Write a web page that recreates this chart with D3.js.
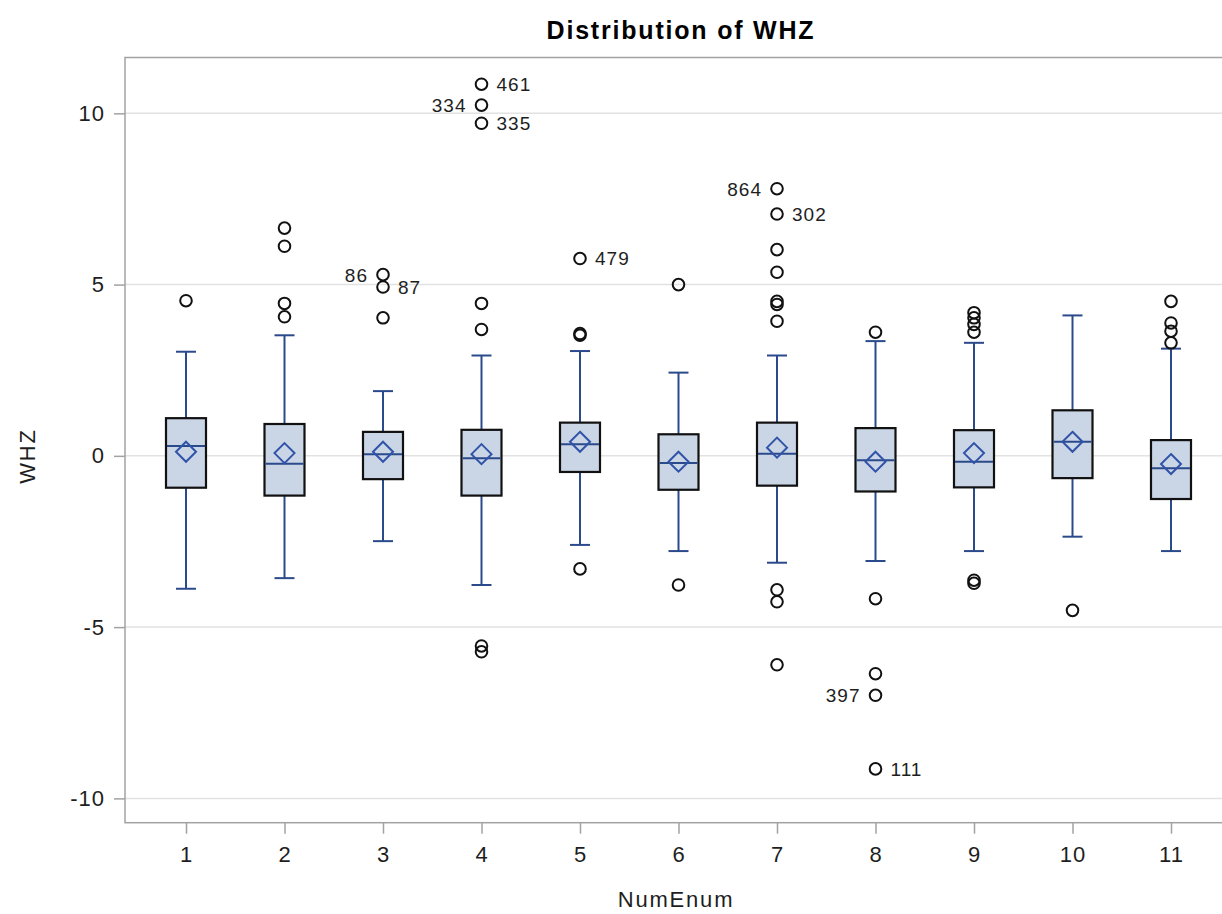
<!DOCTYPE html>
<html>
<head>
<meta charset="utf-8">
<script src="https://cdn.jsdelivr.net/npm/d3@7"></script>
<style>
body { margin: 0; background: #fff; }
text { font-family: "Liberation Sans", Arial, sans-serif; }
</style>
</head>
<body>
<script>
'use strict';

var categories = [1, 2, 3, 4, 5, 6, 7, 8, 9, 10, 11];
var whiskerHigh = [3.04, 3.52, 1.89, 2.93, 3.06, 2.43, 2.93, 3.35, 3.30, 4.10, 3.13];
var q3 = [1.10, 0.93, 0.70, 0.76, 0.97, 0.63, 0.97, 0.81, 0.75, 1.33, 0.46];
var medians = [0.29, -0.23, 0.05, -0.07, 0.34, -0.21, 0.06, -0.13, -0.17, 0.41, -0.36];
var means = [0.12, 0.08, 0.12, 0.05, 0.41, -0.17, 0.24, -0.17, 0.08, 0.41, -0.24];
var q1 = [-0.93, -1.16, -0.68, -1.16, -0.47, -0.99, -0.87, -1.04, -0.92, -0.65, -1.26];
var whiskerLow = [-3.88, -3.57, -2.49, -3.77, -2.60, -2.78, -3.12, -3.07, -2.78, -2.36, -2.78];

// [category, WHZ, obs id]
var outliers = [
    [1, 4.53, ""],
    [2, 6.65, ""], [2, 6.12, ""], [2, 4.45, ""], [2, 4.06, ""],
    [3, 5.29, "86"], [3, 4.93, "87"], [3, 4.03, ""],
    [4, 10.85, "461"], [4, 10.24, "334"], [4, 9.71, "335"], [4, 4.45, ""], [4, 3.69, ""],
    [4, -5.55, ""], [4, -5.72, ""],
    [5, 5.76, "479"], [5, 3.57, ""], [5, 3.52, ""], [5, -3.30, ""],
    [6, 5.00, ""], [6, -3.77, ""],
    [7, 7.80, "864"], [7, 7.06, "302"], [7, 6.02, ""], [7, 5.36, ""], [7, 4.51, ""],
    [7, 4.42, ""], [7, 3.93, ""], [7, -3.91, ""], [7, -4.26, ""], [7, -6.10, ""],
    [8, 3.61, ""], [8, -4.17, ""], [8, -6.36, ""], [8, -6.99, "397"], [8, -9.14, "111"],
    [9, 4.18, ""], [9, 4.03, ""], [9, 3.84, ""], [9, 3.61, ""], [9, -3.63, ""], [9, -3.72, ""],
    [10, -4.51, ""],
    [11, 4.51, ""], [11, 3.88, ""], [11, 3.64, ""], [11, 3.30, ""]
];

var yTicks = [-10, -5, 0, 5, 10];

var chart = {};

chart.width = 1222;
chart.height = 914;
chart.left = 125;
chart.right = 1232;
chart.top = 57.5;
chart.bottom = 822.7;
chart.labelsOnLeft = ["86", "334", "864", "397"];

chart.boxColor = "#2b4a8b";
chart.meanColor = "#3053a8";
chart.fillColor = "#cad5e6";

chart.appendSVG = function(div, width, height){
    var svg = d3.select(div).append("svg")
                .attr("width", width)
                .attr("height", height);
    return svg;
}

chart.createScaleX = function(){
    return d3.scalePoint()
             .domain(categories)
             .range([186, 1171]);
}

chart.createScaleY = function(){
    return d3.scaleLinear()
             .domain([-10.71, 11.63])
             .range([chart.bottom, chart.top]);
}

chart.createFrame = function(svg, yScale){
    svg.selectAll(".grid")
        .data(yTicks)
        .enter()
            .append("line")
            .classed("grid", true)
            .attr("x1", chart.left)
            .attr("x2", chart.right)
            .attr("y1", function(d){ return yScale(d); })
            .attr("y2", function(d){ return yScale(d); })
            .style("stroke", "#e2e2e2")
            .style("stroke-width", 1.5);

    svg.append("rect")
        .attr("x", chart.left)
        .attr("y", chart.top)
        .attr("width", chart.right - chart.left)
        .attr("height", chart.bottom - chart.top)
        .style("fill", "none")
        .style("stroke", "#a2a2a2")
        .style("stroke-width", 1.5);
}

chart.createAxes = function(svg, xScale, yScale){
    var yAxis = svg.append("g")
        .attr("transform", "translate(" + chart.left + ",0)")
        .call(d3.axisLeft(yScale)
                .tickValues(yTicks)
                .tickFormat(function(d){ return String(d); })
                .tickSize(11)
                .tickPadding(9));

    var xAxis = svg.append("g")
        .attr("transform", "translate(0," + chart.bottom + ")")
        .call(d3.axisBottom(xScale).tickSize(11).tickPadding(13));

    [xAxis, yAxis].forEach(function(axis){
        axis.select(".domain").remove();
        axis.selectAll(".tick line").style("stroke", "#a2a2a2").style("stroke-width", 1.5);
        axis.selectAll(".tick text")
            .style("font-size", "22px")
            .style("letter-spacing", "1px")
            .style("fill", "#1e1e1e");
    });

    svg.append("text")
        .attr("x", 676)
        .attr("y", 907)
        .attr("text-anchor", "middle")
        .style("font-size", "22px")
        .style("letter-spacing", "1.8px")
        .style("fill", "#1e1e1e")
        .text("NumEnum");

    svg.append("text")
        .attr("transform", "translate(35,456) rotate(-90)")
        .attr("text-anchor", "middle")
        .style("font-size", "22px")
        .style("letter-spacing", "1.8px")
        .style("fill", "#1e1e1e")
        .text("WHZ");

    svg.append("text")
        .attr("x", 681)
        .attr("y", 39)
        .attr("text-anchor", "middle")
        .style("font-size", "25px")
        .style("font-weight", "bold")
        .style("letter-spacing", "1.8px")
        .style("fill", "#000")
        .text("Distribution of WHZ");
}

chart.createBoxes = function(svg, xScale, yScale){
    var boxHalf = 20;
    var capHalf = 10;
    var diamond = 10;

    var groups = svg.selectAll(".box")
        .data(categories)
        .enter()
            .append("g")
            .classed("box", true)
            .attr("transform", function(d){ return "translate(" + xScale(d) + ",0)"; });

    groups.append("line")
        .attr("x1", 0).attr("x2", 0)
        .attr("y1", function(d, i){ return yScale(whiskerHigh[i]); })
        .attr("y2", function(d, i){ return yScale(whiskerLow[i]); })
        .style("stroke", chart.boxColor)
        .style("stroke-width", 2);

    [whiskerHigh, whiskerLow].forEach(function(arr){
        groups.append("line")
            .attr("x1", -capHalf).attr("x2", capHalf)
            .attr("y1", function(d, i){ return yScale(arr[i]); })
            .attr("y2", function(d, i){ return yScale(arr[i]); })
            .style("stroke", chart.boxColor)
            .style("stroke-width", 2);
    });

    groups.append("rect")
        .attr("x", -boxHalf)
        .attr("width", boxHalf * 2)
        .attr("y", function(d, i){ return yScale(q3[i]); })
        .attr("height", function(d, i){ return yScale(q1[i]) - yScale(q3[i]); })
        .style("fill", chart.fillColor)
        .style("stroke", "#111")
        .style("stroke-width", 2.2);

    groups.append("line")
        .attr("x1", -boxHalf + 1).attr("x2", boxHalf - 1)
        .attr("y1", function(d, i){ return yScale(medians[i]); })
        .attr("y2", function(d, i){ return yScale(medians[i]); })
        .style("stroke", chart.boxColor)
        .style("stroke-width", 2);

    groups.append("path")
        .attr("d", function(d, i){
            var cy = yScale(means[i]);
            return "M0," + (cy - diamond) + "L" + diamond + "," + cy +
                   "L0," + (cy + diamond) + "L" + (-diamond) + "," + cy + "Z";
        })
        .style("fill", "none")
        .style("stroke", chart.meanColor)
        .style("stroke-width", 2);
}

chart.createOutliers = function(svg, xScale, yScale){
    svg.selectAll(".outlier")
        .data(outliers)
        .enter()
            .append("circle")
            .classed("outlier", true)
            .attr("cx", function(d){ return xScale(d[0]); })
            .attr("cy", function(d){ return yScale(d[1]); })
            .attr("r", 5.8)
            .style("fill", "none")
            .style("stroke", "#111")
            .style("stroke-width", 2);

    svg.selectAll(".outlier-label")
        .data(outliers.filter(function(d){ return d[2] !== ""; }))
        .enter()
            .append("text")
            .classed("outlier-label", true)
            .attr("x", function(d){
                var left = chart.labelsOnLeft.indexOf(d[2]) >= 0;
                return xScale(d[0]) + (left ? -15 : 15);
            })
            .attr("y", function(d){ return yScale(d[1]); })
            .attr("dy", "0.36em")
            .attr("text-anchor", function(d){
                return chart.labelsOnLeft.indexOf(d[2]) >= 0 ? "end" : "start";
            })
            .style("font-size", "19px")
            .style("letter-spacing", "1px")
            .style("fill", "#1e1e1e")
            .text(function(d){ return d[2]; });
}

chart.run = function(){
    var svg = chart.appendSVG("body", chart.width, chart.height);
    var xScale = chart.createScaleX();
    var yScale = chart.createScaleY();
    chart.createFrame(svg, yScale);
    chart.createAxes(svg, xScale, yScale);
    chart.createBoxes(svg, xScale, yScale);
    chart.createOutliers(svg, xScale, yScale);
}

window.onload = chart.run;
</script>
</body>
</html>
